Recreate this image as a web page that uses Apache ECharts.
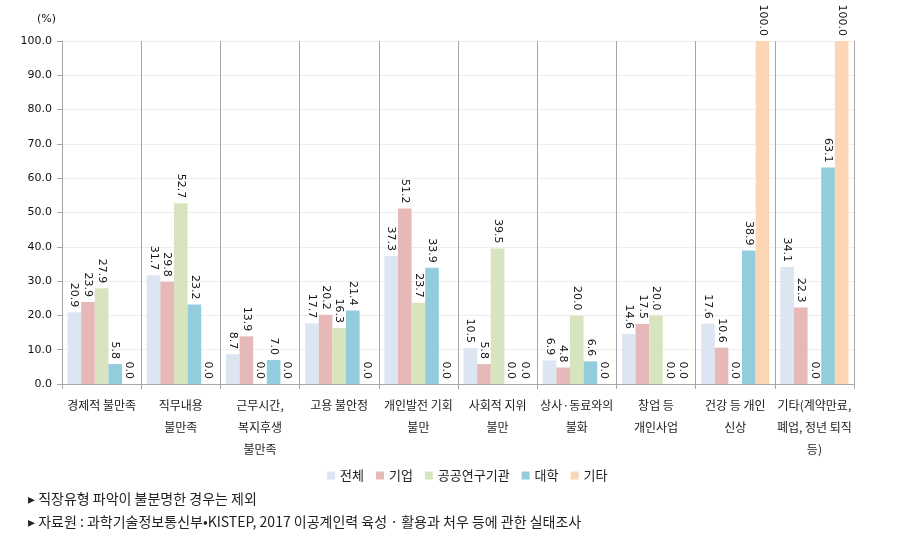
<!DOCTYPE html>
<html>
<head>
<meta charset="utf-8">
<script src="https://cdn.jsdelivr.net/npm/echarts@6/dist/echarts.min.js"></script>
<style>
  html, body { margin: 0; padding: 0; background: #fff; }
  #chart { width: 901px; height: 539px; }
</style>
</head>
<body>
<div id="chart"></div>
<script>
// 불만 사유 (카테고리)
const categories = [
  '경제적 불만족',
  '직무내용\n불만족',
  '근무시간,\n복지후생\n불만족',
  '고용 불안정',
  '개인발전 기회\n불만',
  '사회적 지위\n불만',
  '상사·동료와의\n불화',
  '창업 등\n개인사업',
  '건강 등 개인\n신상',
  '기타(계약만료,\n폐업, 정년 퇴직\n등)'
]

const seriesNames = ['전체', '기업', '공공연구기관', '대학', '기타']
const colors = ['#dce6f2', '#e6b9b8', '#d7e4bd', '#93cddd', '#fcd5b5']

// 시리즈 값 (%)
const totalValues = [20.9, 31.7, 8.7, 17.7, 37.3, 10.5, 6.9, 14.6, 17.6, 34.1]
const companyValues = [23.9, 29.8, 13.9, 20.2, 51.2, 5.8, 4.8, 17.5, 10.6, 22.3]
const publicLabValues = [27.9, 52.7, 0.0, 16.3, 23.7, 39.5, 20.0, 20.0, 0.0, 0.0]
const universityValues = [5.8, 23.2, 7.0, 21.4, 33.9, 0.0, 6.6, 0.0, 38.9, 63.1]
const otherValues = [0.0, 0.0, 0.0, 0.0, 0.0, 0.0, 0.0, 0.0, 100.0, 100.0]

const allValues = [totalValues, companyValues, publicLabValues, universityValues, otherValues]

const notes = [
  '▸ 직장유형 파악이 불분명한 경우는 제외',
  '▸ 자료원 : 과학기술정보통신부•KISTEP, 2017 이공계인력 육성 · 활용과 처우 등에 관한 실태조사'
]

const numFont = '"DejaVu Sans", sans-serif'
const krFont = '"Noto Sans CJK KR", "DejaVu Sans", sans-serif'

const chart = echarts.init(document.getElementById('chart'))

const option = {
  animation: false,
  grid: {
    left: 62,
    right: 47,
    top: 41,
    bottom: 155
  },
  legend: {
    data: seriesNames,
    left: 322,
    top: 464,
    icon: 'rect',
    itemWidth: 8,
    itemHeight: 8,
    itemGap: 12,
    textStyle: { fontFamily: krFont, fontSize: 13, color: '#222' }
  },
  xAxis: {
    type: 'category',
    data: categories,
    axisLine: { lineStyle: { color: '#a6a6a6' } },
    axisTick: { show: true, length: 5, lineStyle: { color: '#a6a6a6' } },
    splitLine: { show: true, lineStyle: { color: '#a6a6a6', width: 1 } },
    axisLabel: {
      interval: 0,
      margin: 10,
      fontFamily: krFont,
      fontSize: 12,
      lineHeight: 22,
      color: '#222'
    }
  },
  yAxis: {
    type: 'value',
    min: 0,
    max: 100,
    interval: 10,
    axisLine: { show: true, lineStyle: { color: '#a6a6a6' } },
    axisTick: { show: true, length: 5, lineStyle: { color: '#a6a6a6' } },
    splitLine: { lineStyle: { color: '#eeeeee' } },
    axisLabel: {
      margin: 10,
      fontFamily: numFont,
      fontSize: 11,
      color: '#111',
      formatter: v => v.toFixed(1)
    }
  },
  graphic: [
    {
      type: 'text',
      left: 37,
      top: 14,
      style: { text: '(%)', fontFamily: numFont, fontSize: 11, fill: '#111' }
    },
    ...notes.map((t, i) => ({
      type: 'text',
      left: 28,
      top: 492 + i * 23,
      style: { text: t, fontFamily: krFont, fontSize: 14, fill: '#222' }
    }))
  ],
  series: seriesNames.map((name, i) => ({
    name: name,
    type: 'bar',
    data: allValues[i],
    barGap: 0,
    barCategoryGap: '14%',
    itemStyle: { color: colors[i] },
    label: {
      show: true,
      position: 'top',
      rotate: -90,
      align: 'right',
      verticalAlign: 'middle',
      distance: 5,
      fontFamily: numFont,
      fontSize: 11,
      color: '#111',
      formatter: p => p.value.toFixed(1)
    }
  }))
}

chart.setOption(option)
</script>
</body>
</html>
